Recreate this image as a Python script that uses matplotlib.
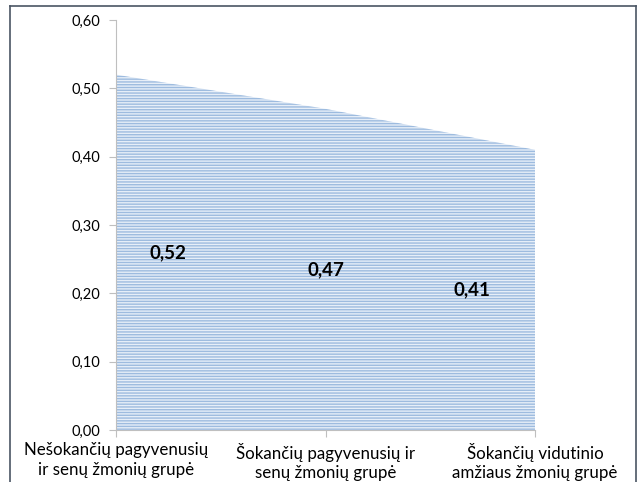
import matplotlib.pyplot as plt
from matplotlib.lines import Line2D
from matplotlib.ticker import FuncFormatter

categories = ["Nešokančių pagyvenusių\nir senų žmonių grupė",
              "Šokančių pagyvenusių ir\nsenų žmonių grupė",
              "Šokančių vidutinio\namžiaus žmonių grupė"]
values = [0.52, 0.47, 0.41]
labels = ["0,52", "0,47", "0,41"]
label_x = [0.25, 1.0, 1.7]

plt.rcParams['font.family'] = ['Lato', 'DejaVu Sans']
plt.rcParams['hatch.linewidth'] = 1.0
plt.rcParams['hatch.color'] = '#9dbbdf'

fig = plt.figure(figsize=(6.41, 4.82), dpi=100)
ax = fig.add_axes([116 / 641, 1 - 430 / 482, 419 / 641, 410 / 482])

x = list(range(len(values)))
ax.fill_between(x, values, 0, facecolor='#e6eef8', hatch='------',
                edgecolor='#9dbbdf', linewidth=0)

# data labels sit halfway up the area
for lx, v, t in zip(label_x, values, labels):
    ax.text(lx, v / 2, t, ha='center', va='center', fontsize=13.5,
            fontweight='bold', color='black')

ax.set_xlim(0, 2)
ax.set_ylim(0, 0.6)
ax.set_yticks([0, 0.1, 0.2, 0.3, 0.4, 0.5, 0.6])
ax.yaxis.set_major_formatter(FuncFormatter(lambda v, p: f"{v:.2f}".replace('.', ',')))
ax.set_xticks(x)
ax.set_xticklabels(categories, fontsize=12.2, linespacing=1.25)

for s in ['top', 'right']:
    ax.spines[s].set_visible(False)
for s in ['left', 'bottom']:
    ax.spines[s].set_color('#bfbfbf')
ax.tick_params(axis='both', colors='#bfbfbf', length=5, labelcolor='black')
ax.tick_params(axis='y', labelsize=10.5, pad=6)
ax.tick_params(axis='x', pad=4)

# outer chart border
for xs, ys in [([10, 10], [0, 476]), ([10, 636], [476, 476]), ([636, 636], [476, 0])]:
    fig.add_artist(Line2D([v / 641 for v in xs], [v / 482 for v in ys],
                          color='#4a5563', linewidth=1.2))

fig.savefig('out.png', dpi=100)
